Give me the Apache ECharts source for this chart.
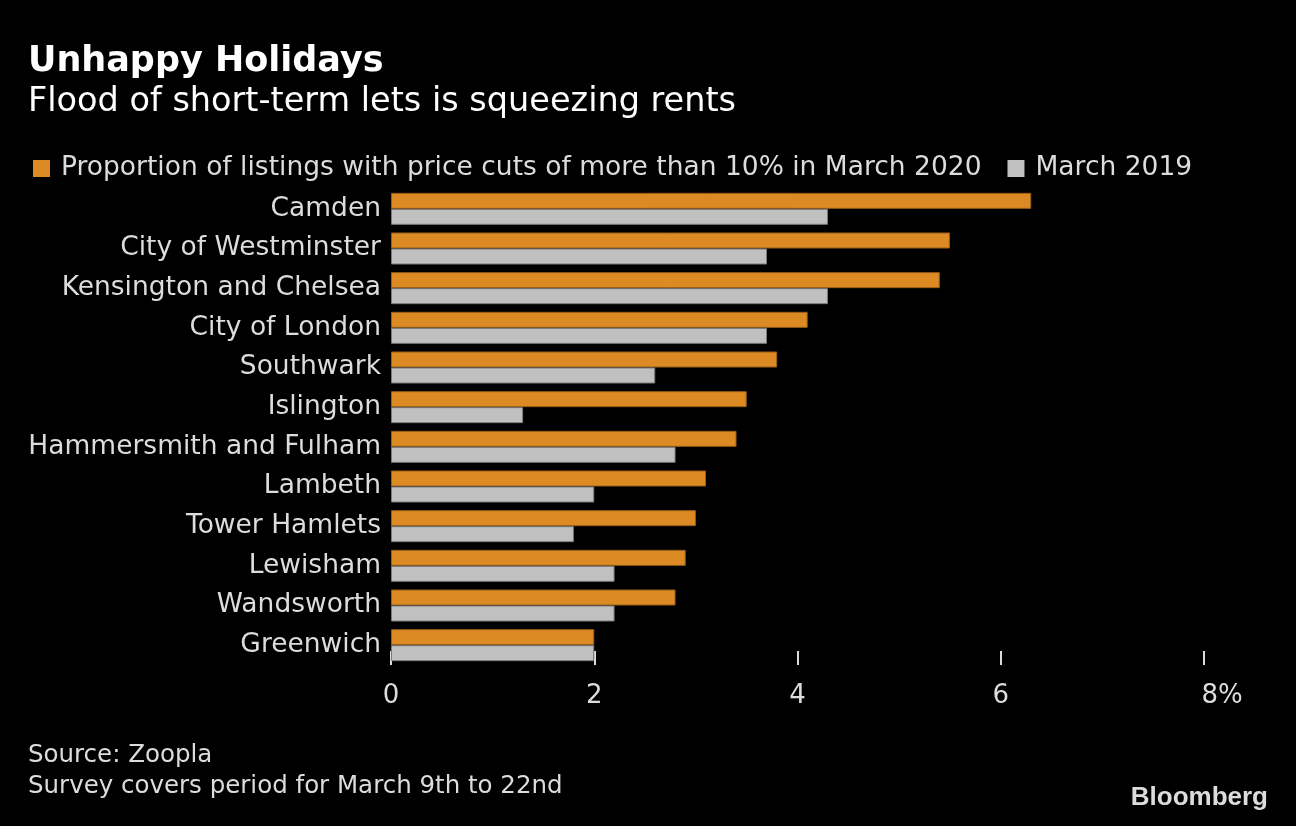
<!DOCTYPE html>
<html>
<head>
<meta charset="utf-8">
<script src="https://cdn.jsdelivr.net/npm/echarts@6/dist/echarts.min.js"></script>
<style>
html,body{margin:0;padding:0;background:#000;}
#chart{width:1296px;height:826px;}
</style>
</head>
<body>
<div id="chart"></div>
<script>
const categories = ['Camden','City of Westminster','Kensington and Chelsea','City of London','Southwark','Islington','Hammersmith and Fulham','Lambeth','Tower Hamlets','Lewisham','Wandsworth','Greenwich'];
const march2020 = [6.3,5.5,5.4,4.1,3.8,3.5,3.4,3.1,3.0,2.9,2.8,2.0];
const march2019 = [4.3,3.7,4.3,3.7,2.6,1.3,2.8,2.0,1.8,2.2,2.2,2.0];
const seriesNames = ['Proportion of listings with price cuts of more than 10% in March 2020','March 2019'];
const xTicks = [0,2,4,6,8];

const FONT = '"DejaVu Sans", sans-serif';
const chart = echarts.init(document.getElementById('chart'));
chart.setOption({
  backgroundColor:'#000',
  animation:false,
  textStyle:{fontFamily:FONT},
  graphic:[
    {type:'text',left:28,top:44,style:{text:'Unhappy Holidays',fontFamily:FONT,fontWeight:'bold',fontSize:35,fill:'#fff'}},
    {type:'text',left:28,top:85,style:{text:'Flood of short-term lets is squeezing rents',fontFamily:FONT,fontSize:33.5,fill:'#fff'}},
    {type:'text',left:28,top:743,style:{text:'Source: Zoopla',fontFamily:FONT,fontSize:24.5,fill:'#dcdcdc'}},
    {type:'text',left:28,top:774,style:{text:'Survey covers period for March 9th to 22nd',fontFamily:FONT,fontSize:24.5,fill:'#dcdcdc'}},
    {type:'text',right:28,top:785,style:{text:'Bloomberg',fontFamily:'"Liberation Sans", Arial, sans-serif',fontWeight:'bold',fontSize:26,fill:'#dcdcdc'}}
  ],
  legend:{
    left:28,top:150,itemWidth:17,itemHeight:17,itemGap:26,icon:'rect',
    itemStyle:{borderWidth:0},
    textStyle:{color:'#dcdcdc',fontSize:26.5,fontFamily:FONT,padding:[0,0,0,6]},
    data:seriesNames
  },
  grid:{left:391,right:92,top:189,bottom:161,containLabel:false},
  xAxis:{
    type:'value',min:0,max:8,interval:2,
    axisLine:{show:false},
    splitLine:{show:false},
    axisTick:{show:true,inside:true,length:14,lineStyle:{color:'#dcdcdc',width:2}},
    axisLabel:{
      color:'#dcdcdc',fontSize:26,margin:18,fontFamily:FONT,
      formatter:function(v){return v===xTicks[xTicks.length-1]?'{p|'+v+'%}':String(v);},
      rich:{p:{fontSize:26,color:'#dcdcdc',fontFamily:FONT,padding:[0,0,0,36]}}
    }
  },
  yAxis:{
    type:'category',inverse:true,data:categories,
    axisLine:{show:false},axisTick:{show:false},
    axisLabel:{color:'#dcdcdc',fontSize:26.5,margin:10,fontFamily:FONT}
  },
  series:[
    {name:seriesNames[0],type:'bar',data:march2020,barWidth:16,barGap:'0%',
     itemStyle:{color:'#dc8a24',borderColor:'#9a5e18',borderWidth:1}},
    {name:seriesNames[1],type:'bar',data:march2019,barWidth:16,barGap:'0%',
     itemStyle:{color:'#c0c0c0',borderColor:'#7a7a7a',borderWidth:1}}
  ]
});
</script>
</body>
</html>
